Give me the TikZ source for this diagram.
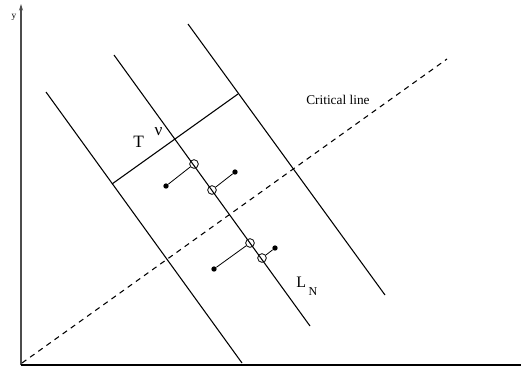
\documentclass[tikz,border=0pt]{standalone}
\usepackage{fontspec}
\setmainfont{Liberation Serif}
\usetikzlibrary{arrows.meta}

\tikzset{
  bandline/.style={line width=0.8pt},
  hole/.style={circle, draw=black, line width=0.6pt, inner sep=0pt, minimum size=6.5pt},
  site/.style={circle, fill=black, inner sep=0pt, minimum size=4pt},
  bond/.style={line width=0.6pt}
}

\begin{document}
\begin{tikzpicture}[x=0.75pt,y=-0.75pt]
\useasboundingbox (0,0) rectangle (521,383);
% axes
\draw[-{Stealth[length=5pt,width=3pt]}, line width=0.9pt, black!70] (21,365) -- (21,4);
\draw[line width=1.1pt] (21,365) -- (521,365);
\node[font=\fontsize{7}{8}\selectfont] (ylab) at (14,17) {y};
% critical line
\draw[line width=0.8pt, dash pattern=on 4pt off 3.5pt] (22,363) -- (447,59);
\node[font=\fontsize{10}{12}\selectfont, anchor=base west, inner sep=0pt] (crit) at (306,104) {Critical line};
% the three lines and the bar
\draw[bandline] (46,92) -- (242,363);
\draw[bandline] (114,55) -- (310,326);
\draw[bandline] (188,24) -- (385,295);
\draw[bandline] (112,184) -- (238,94);
\node[font=\fontsize{13}{15}\selectfont, anchor=base west, inner sep=0pt] (tnu) at (133,147) {T\hspace{8pt}\raisebox{9pt}{ν}};
\node[font=\fontsize{12}{14}\selectfont, anchor=base west, inner sep=0pt] (ln) at (296,287) {L\hspace{2pt}\raisebox{-6pt}{\fontsize{9}{10}\selectfont N}};
% pairs
\node[site] (d1) at (166,186) {};
\node[site] (d2) at (235,172) {};
\node[site] (d3) at (214,269) {};
\node[site] (d4) at (275,248) {};
\node[hole] (c1) at (194,164) {};
\node[hole] (c2) at (212,190) {};
\node[hole] (c3) at (250,243) {};
\node[hole] (c4) at (262,258) {};
\draw[bond] (d1) -- (c1);
\draw[bond] (c2) -- (d2);
\draw[bond] (d3) -- (c3);
\draw[bond] (c4) -- (d4);
\end{tikzpicture}
\end{document}
